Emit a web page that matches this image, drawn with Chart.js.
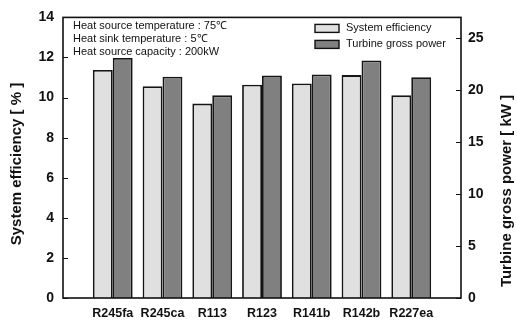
<!DOCTYPE html>
<html>
<head>
<meta charset="utf-8">
<script src="https://cdn.jsdelivr.net/npm/chart.js@4"></script>
<style>
html,body{margin:0;padding:0;background:#fff;}
#wrap{width:517px;height:324px;position:relative;}
</style>
</head>
<body>
<div id="wrap"><canvas id="c" width="517" height="324"></canvas></div>
<script>
const categories = ['R245fa','R245ca','R113','R123','R141b','R142b','R227ea'];
const efficiency = [11.38, 10.57, 9.70, 10.64, 10.70, 11.12, 10.11];
const turbinePower = [23.1, 21.3, 19.5, 21.4, 21.5, 22.85, 21.24];
const leftTicks = [0,2,4,6,8,10,12,14];
const rightTicks = [0,5,10,15,20,25];
const notes = ['Heat source temperature : 75\u2103','Heat sink temperature : 5\u2103','Heat source capacity : 200kW'];
const leftTitle = 'System efficiency [ % ]';
const rightTitle = 'Turbine gross power [ kW ]';

// padded category list (empty slots at both ends)
const labels = [''].concat(categories).concat(['']);
const pad = arr => [null].concat(arr).concat([null]);

const FONT = '"Liberation Sans", Arial, sans-serif';

const decor = {
  id:'decor',
  afterDraw(chart){
    const ctx = chart.ctx, a = chart.chartArea;
    const yl = chart.scales.y, yr = chart.scales.y2;
    ctx.save();
    // frame
    ctx.strokeStyle = '#111'; ctx.lineWidth = 1.6;
    ctx.strokeRect(a.left, a.top, a.right - a.left, a.bottom - a.top);
    // inward ticks
    ctx.lineWidth = 1;
    leftTicks.forEach(v => { const p = Math.round(yl.getPixelForValue(v)) + 0.5;
      ctx.beginPath(); ctx.moveTo(a.left, p); ctx.lineTo(a.left + 5, p); ctx.stroke(); });
    rightTicks.forEach(v => { const p = Math.round(yr.getPixelForValue(v)) + 0.5;
      ctx.beginPath(); ctx.moveTo(a.right, p); ctx.lineTo(a.right - 5, p); ctx.stroke(); });
    // axis titles
    ctx.fillStyle = '#111';
    ctx.font = 'bold 15px ' + FONT;
    ctx.textAlign = 'center'; ctx.textBaseline = 'middle';
    ctx.save(); ctx.translate(17, 164); ctx.rotate(-Math.PI/2); ctx.fillText(leftTitle, 0, 0); ctx.restore();
    ctx.save(); ctx.translate(507, 191); ctx.rotate(-Math.PI/2); ctx.fillText(rightTitle, 0, 0); ctx.restore();
    // notes
    ctx.font = '11px ' + FONT; ctx.textAlign = 'left';
    notes.forEach((t,i) => ctx.fillText(t, a.left + 10, a.top + 9 + i*13));
    // legend
    chart.data.datasets.forEach((ds,i) => {
      const y = a.top + 11 + i*16;
      ctx.fillStyle = ds.backgroundColor; ctx.strokeStyle = '#111'; ctx.lineWidth = 1.4;
      ctx.fillRect(315, y - 4, 24, 8); ctx.strokeRect(315, y - 4, 24, 8);
      ctx.fillStyle = '#111';
      ctx.fillText(ds.label, 346, y);
    });
    ctx.restore();
  }
};

new Chart(document.getElementById('c'), {
  type:'bar',
  data:{
    labels: labels,
    datasets:[
      {label:'System efficiency', data: pad(efficiency), yAxisID:'y', backgroundColor:'#e0e0e0', borderColor:'#151515', borderWidth:1.8, categoryPercentage:0.8, barPercentage:1.0},
      {label:'Turbine gross power', data: pad(turbinePower), yAxisID:'y2', backgroundColor:'#808080', borderColor:'#151515', borderWidth:1.8, categoryPercentage:0.8, barPercentage:1.0}
    ]
  },
  options:{
    responsive:false, animation:false, devicePixelRatio:1,
    layout:{padding:{top:14, left:0, right:0, bottom:0}},
    plugins:{legend:{display:false}, tooltip:{enabled:false}},
    scales:{
      x:{
        offset:false,
        grid:{display:false, drawTicks:false}, border:{display:false},
        ticks:{color:'#111', font:{family:FONT, size:12.5, weight:'bold'}, padding:8, maxRotation:0, autoSkip:false},
        afterFit(s){ s.height = 26; }
      },
      y:{
        position:'left', min:0, max:14,
        afterBuildTicks(s){ s.ticks = leftTicks.map(v => ({value:v})); },
        grid:{display:false, drawTicks:false}, border:{display:false},
        ticks:{color:'#111', font:{family:FONT, size:14, weight:'bold'}, padding:9},
        afterFit(s){ s.width = 63; }
      },
      y2:{
        position:'right', min:0, max:27,
        afterBuildTicks(s){ s.ticks = rightTicks.map(v => ({value:v})); },
        grid:{display:false, drawTicks:false}, border:{display:false},
        ticks:{color:'#111', font:{family:FONT, size:14, weight:'bold'}, padding:7},
        afterFit(s){ s.width = 56; }
      }
    }
  },
  plugins:[decor]
});
</script>
</body>
</html>
